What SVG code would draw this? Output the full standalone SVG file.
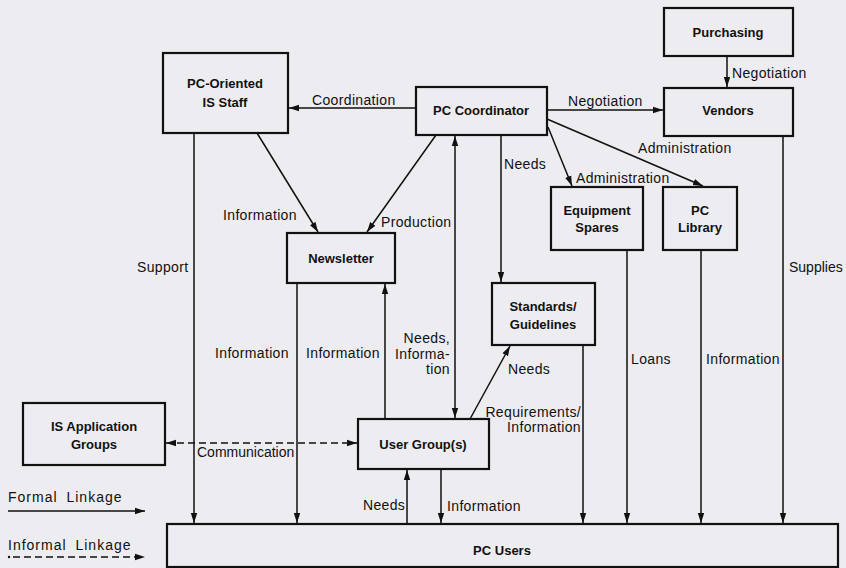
<svg xmlns="http://www.w3.org/2000/svg" width="846" height="568" viewBox="0 0 846 568">
  <style>
    .box { fill: none; stroke: #111; stroke-width: 2.2; }
    .name { font-family: "Liberation Sans", Arial, sans-serif; font-size: 13px; font-weight: bold; fill: #111; text-anchor: middle; }
    .lbl { font-family: "Liberation Sans", Arial, sans-serif; font-size: 14px; letter-spacing: 0.35px; fill: #111; }
    .end { text-anchor: end; }
    .tight { letter-spacing: 0; }
    .legend { font-family: "Liberation Sans", Arial, sans-serif; font-size: 14px; letter-spacing: 1px; word-spacing: 4px; fill: #111; }
    .ln { fill: none; stroke: #111; stroke-width: 1.5; marker-end: url(#arr); }
    .both { marker-start: url(#arr); }
    .dash { stroke-dasharray: 7 4; }
  </style>
  <defs>
    <marker id="arr" markerUnits="userSpaceOnUse" markerWidth="11" markerHeight="8" refX="10" refY="4" orient="auto-start-reverse">
      <path d="M0,0.8 L10,4 L0,7.2 z" fill="#111"/>
    </marker>
  </defs>

  <rect x="0" y="0" width="846" height="568" fill="#edecf0"/>

  <!-- connectors -->
  <g id="connectors">
    <path class="ln" d="M416,108 L289,108"/>
    <path class="ln" d="M547,110 L663,110"/>
    <path class="ln" d="M727,56 L727,87"/>
    <path class="ln" d="M548,127 L572,186"/>
    <path class="ln" d="M547,119 L703,186"/>
    <path class="ln" d="M501,135 L501,282"/>
    <path class="ln both" d="M455,136 L455,418"/>
    <path class="ln" d="M436,135 L367,232"/>
    <path class="ln" d="M257,133 L318,232"/>
    <path class="ln" d="M194,133 L194,523"/>
    <path class="ln" d="M297,283 L297,523"/>
    <path class="ln" d="M385,419 L385,284"/>
    <path class="ln both dash" d="M166,443 L357,443"/>
    <path class="ln" d="M470,419 L510,346"/>
    <path class="ln" d="M583,345 L583,523"/>
    <path class="ln" d="M627,250 L627,523"/>
    <path class="ln" d="M701,250 L701,523"/>
    <path class="ln" d="M783,136 L783,523"/>
    <path class="ln" d="M407,524 L407,470"/>
    <path class="ln" d="M441,469 L441,523"/>
  </g>

  <!-- connector labels -->
  <g id="labels">
    <text class="lbl" x="312" y="105">Coordination</text>
    <text class="lbl" x="568" y="106">Negotiation</text>
    <text class="lbl" x="732" y="78">Negotiation</text>
    <text class="lbl" x="638" y="153">Administration</text>
    <text class="lbl" x="576" y="183">Administration</text>
    <text class="lbl" x="504" y="169">Needs</text>
    <text class="lbl" x="223" y="220">Information</text>
    <text class="lbl" x="381" y="227">Production</text>
    <text class="lbl" x="137" y="272">Support</text>
    <text class="lbl" x="215" y="358">Information</text>
    <text class="lbl" x="306" y="358">Information</text>
    <text class="lbl end" x="450" y="343">Needs,</text>
    <text class="lbl end" x="450" y="359">Informa-</text>
    <text class="lbl end" x="450" y="374">tion</text>
    <text class="lbl" x="508" y="374">Needs</text>
    <text class="lbl end" x="581" y="417">Requirements/</text>
    <text class="lbl end" x="581" y="432">Information</text>
    <text class="lbl" x="631" y="364">Loans</text>
    <text class="lbl" x="706" y="364">Information</text>
    <text class="lbl tight" x="789" y="272">Supplies</text>
    <text class="lbl tight" x="197" y="457">Communication</text>
    <text class="lbl" x="363" y="510">Needs</text>
    <text class="lbl" x="447" y="511">Information</text>
  </g>

  <!-- nodes -->
  <g id="pc-oriented-is-staff">
    <rect class="box" x="163" y="53" width="125" height="80"/>
    <text class="name" x="225" y="88">PC-Oriented</text>
    <text class="name" x="225" y="107">IS Staff</text>
  </g>
  <g id="pc-coordinator">
    <rect class="box" x="416" y="87" width="131" height="48"/>
    <text class="name" x="481" y="115">PC Coordinator</text>
  </g>
  <g id="purchasing">
    <rect class="box" x="664" y="8" width="129" height="48"/>
    <text class="name" x="728" y="37">Purchasing</text>
  </g>
  <g id="vendors">
    <rect class="box" x="664" y="88" width="129" height="48"/>
    <text class="name" x="728" y="115">Vendors</text>
  </g>
  <g id="equipment-spares">
    <rect class="box" x="551" y="187" width="92" height="63"/>
    <text class="name" x="597" y="215">Equipment</text>
    <text class="name" x="597" y="232">Spares</text>
  </g>
  <g id="pc-library">
    <rect class="box" x="663" y="187" width="74" height="63"/>
    <text class="name" x="700" y="215">PC</text>
    <text class="name" x="700" y="232">Library</text>
  </g>
  <g id="standards-guidelines">
    <rect class="box" x="492" y="283" width="103" height="62"/>
    <text class="name" x="543" y="311">Standards/</text>
    <text class="name" x="543" y="329">Guidelines</text>
  </g>
  <g id="newsletter">
    <rect class="box" x="287" y="233" width="108" height="50"/>
    <text class="name" x="341" y="263">Newsletter</text>
  </g>
  <g id="is-application-groups">
    <rect class="box" x="23" y="403" width="142" height="62"/>
    <text class="name" x="94" y="431">IS Application</text>
    <text class="name" x="94" y="449">Groups</text>
  </g>
  <g id="user-groups">
    <rect class="box" x="358" y="419" width="131" height="50"/>
    <text class="name" x="423" y="449">User Group(s)</text>
  </g>
  <g id="pc-users">
    <rect class="box" x="167" y="524" width="671" height="43"/>
    <text class="name" x="502" y="555">PC Users</text>
  </g>

  <!-- legend -->
  <g id="legend">
    <text class="legend" x="8" y="502">Formal Linkage</text>
    <path class="ln" d="M8,511 L145,511"/>
    <text class="legend" x="8" y="550">Informal Linkage</text>
    <circle cx="9" cy="557" r="1.2" fill="#111"/>
    <path class="ln dash" d="M13,557 L145,557"/>
  </g>
</svg>
